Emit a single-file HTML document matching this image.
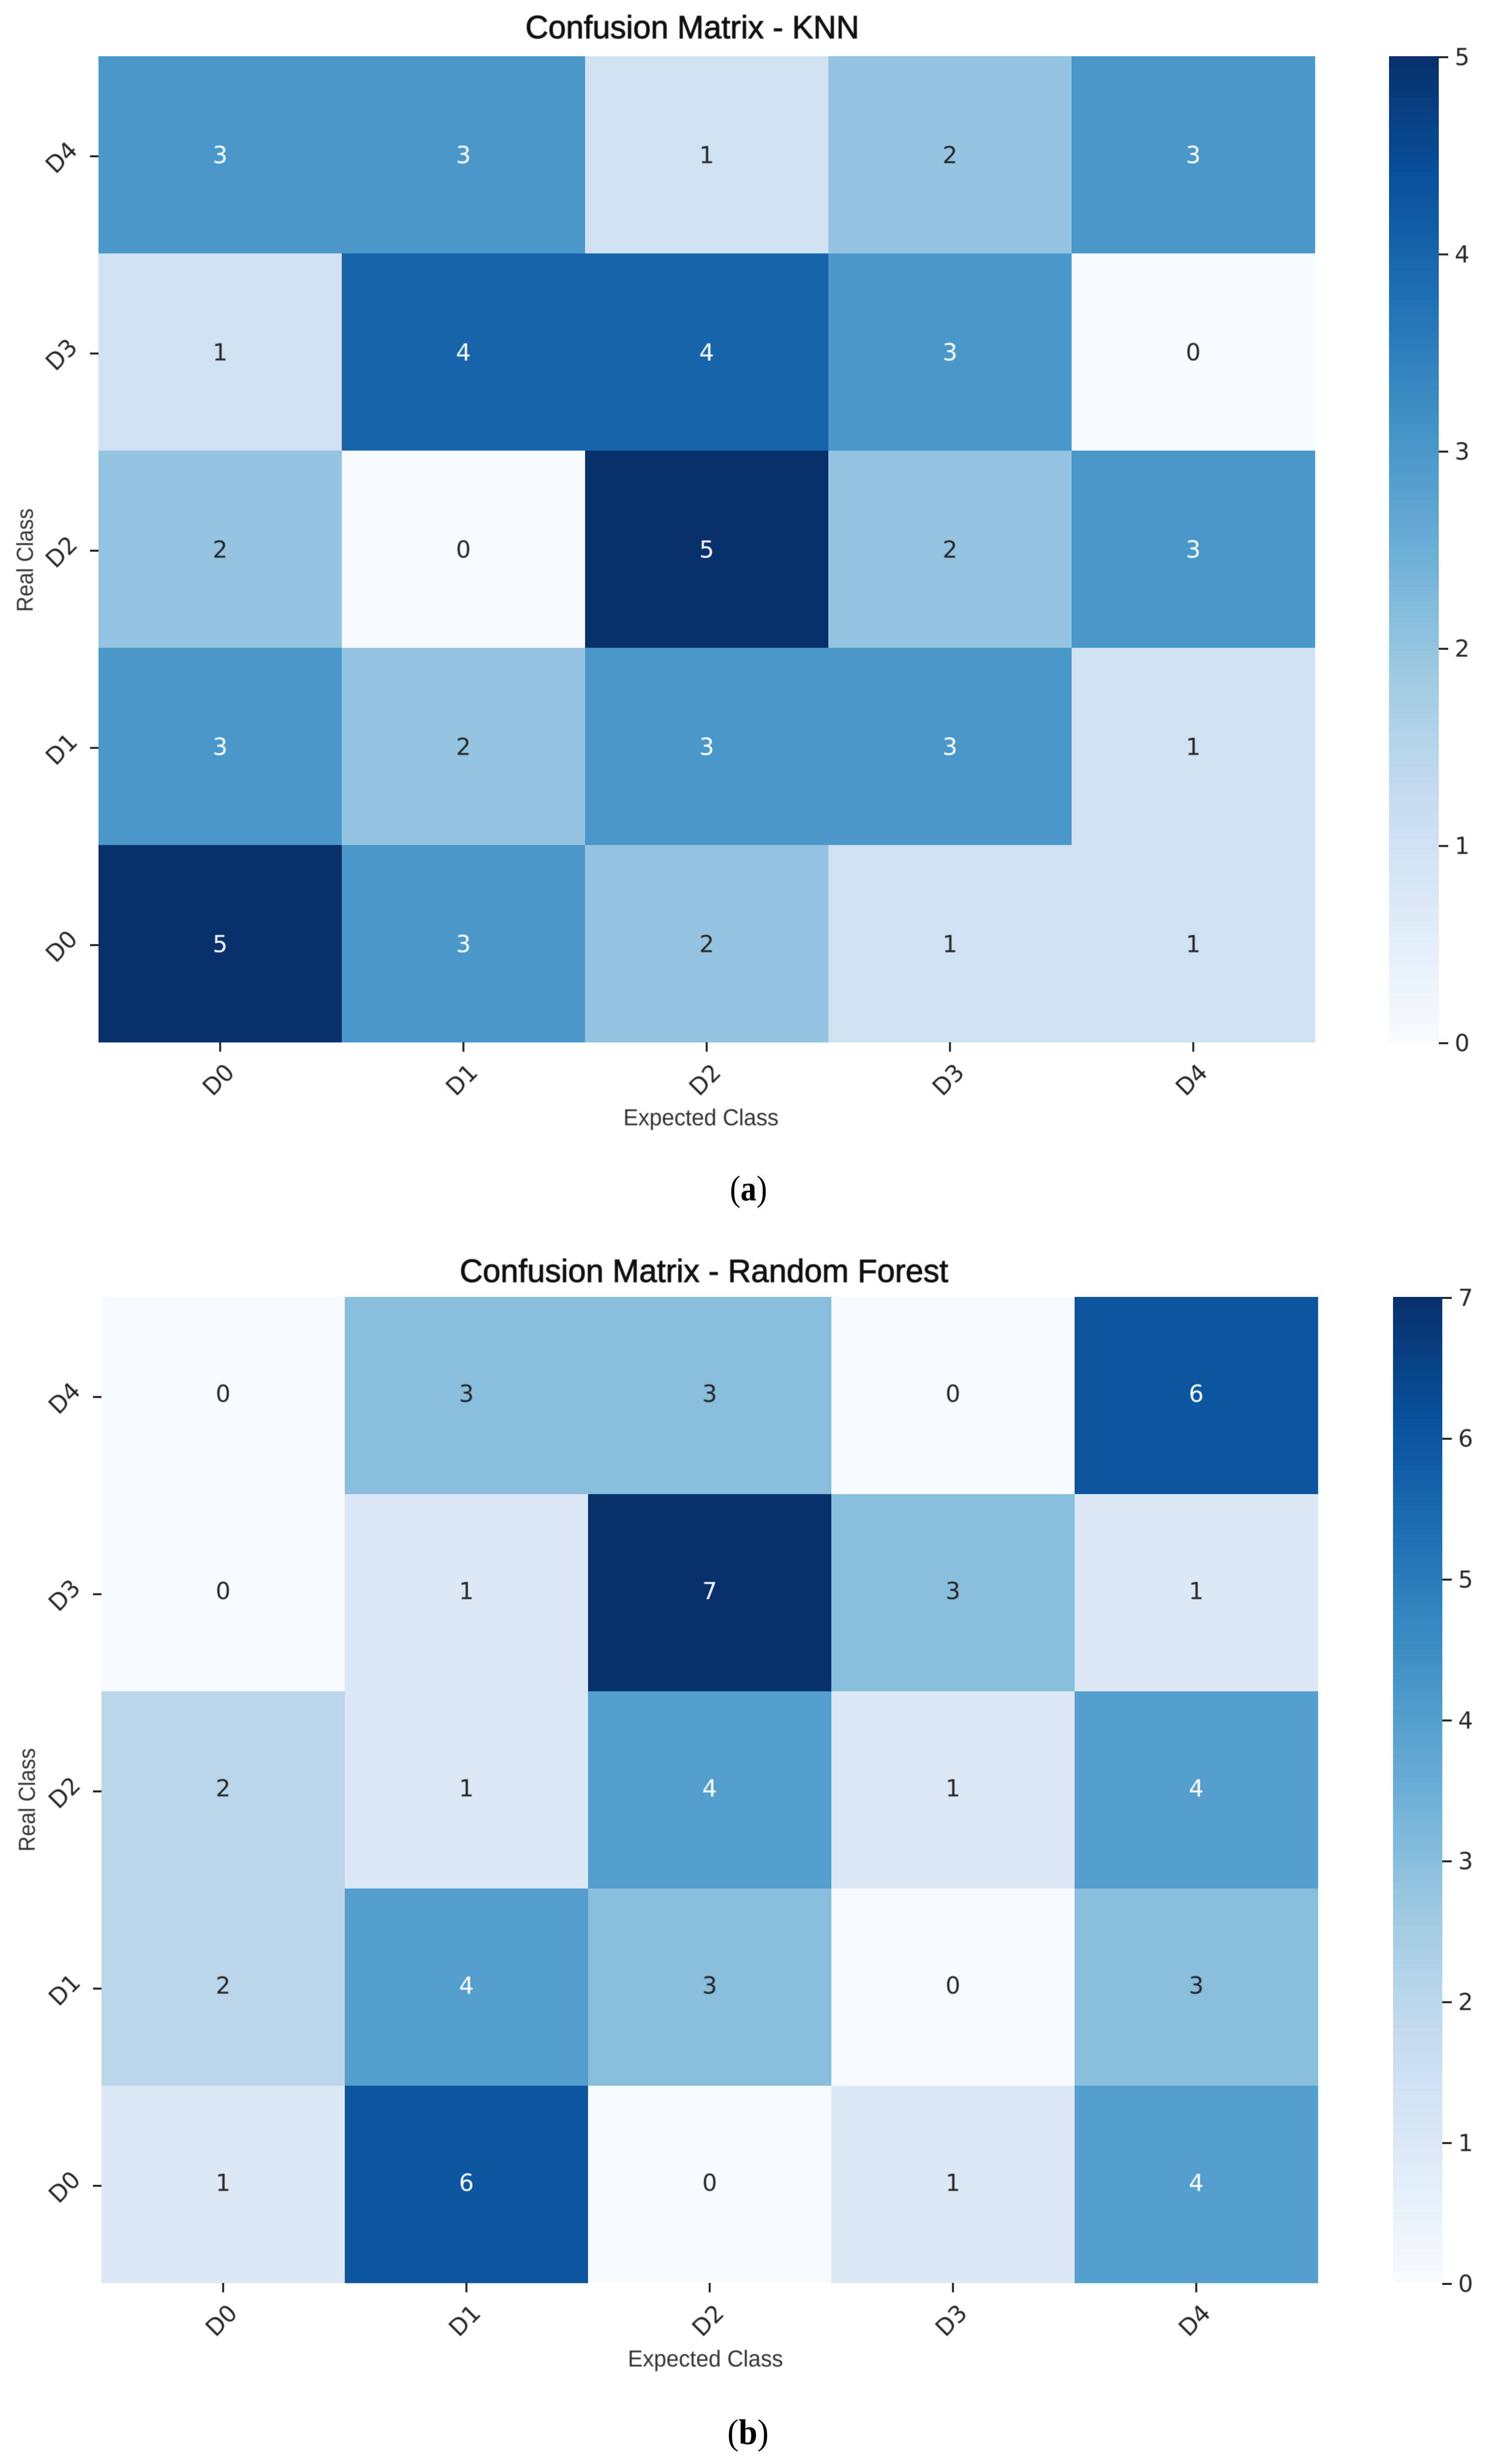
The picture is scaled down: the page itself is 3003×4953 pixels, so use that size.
<!DOCTYPE html>
<html lang="en">
<head>
<meta charset="utf-8">
<title>Confusion Matrices - KNN and Random Forest</title>
<style>
  html, body { margin: 0; padding: 0; background: #ffffff; }
  svg { display: block; }
  .soft { filter: blur(0.9px); }
</style>
</head>
<body>
<svg id="figure" xmlns="http://www.w3.org/2000/svg" width="3003" height="4953" viewBox="0 0 3003 4953">
  <rect x="0" y="0" width="3003" height="4953" fill="#ffffff"></rect>
  <defs id="defs"></defs>
</svg>
<script>
// ---- chart data ----
const xCategories = ['D0', 'D1', 'D2', 'D3', 'D4'];
const yCategories = ['D4', 'D3', 'D2', 'D1', 'D0'];

const knnValues = [
  [3, 3, 1, 2, 3],
  [1, 4, 4, 3, 0],
  [2, 0, 5, 2, 3],
  [3, 2, 3, 3, 1],
  [5, 3, 2, 1, 1]
];
const forestValues = [
  [0, 3, 3, 0, 6],
  [0, 1, 7, 3, 1],
  [2, 1, 4, 1, 4],
  [2, 4, 3, 0, 3],
  [1, 6, 0, 1, 4]
];
const knnColorbarTicks = [0, 1, 2, 3, 4, 5];
const forestColorbarTicks = [0, 1, 2, 3, 4, 5, 6, 7];
const knnTitle = 'Confusion Matrix - KNN';
const forestTitle = 'Confusion Matrix - Random Forest';
const xAxisLabel = 'Expected Class';
const yAxisLabel = 'Real Class';

// ---- Blues colour map ----
const bluesMap = ['#f7fbff', '#deebf7', '#c6dbef', '#9ecae1', '#6baed6', '#4292c6', '#2171b5', '#08519c', '#08306b'];

function hexToRgb(h) {
  return [parseInt(h.slice(1, 3), 16), parseInt(h.slice(3, 5), 16), parseInt(h.slice(5, 7), 16)];
}
function blues(t) {
  const p = Math.min(Math.max(t, 0), 1) * (bluesMap.length - 1);
  const i = Math.min(Math.floor(p), bluesMap.length - 2);
  const f = p - i;
  const a = hexToRgb(bluesMap[i]);
  const b = hexToRgb(bluesMap[i + 1]);
  return 'rgb(' + a.map((v, k) => Math.round(v + (b[k] - v) * f)).join(',') + ')';
}

const SVG_NS = 'http://www.w3.org/2000/svg';
const root = document.getElementById('figure');
const defs = document.getElementById('defs');
const SANS = '"Liberation Sans", sans-serif';
const DEJAVU = '"DejaVu Sans", sans-serif';
const SERIF = '"Liberation Serif", serif';

function make(tag, parent, attrs) {
  const el = document.createElementNS(SVG_NS, tag);
  for (const k in attrs) el.setAttribute(k, attrs[k]);
  parent.appendChild(el);
  return el;
}

function drawPanel(prefix, values, colorbarTicks, title, geo) {
  const group = make('g', root, {});
  
  

  const cellW = (geo.right - geo.left) / xCategories.length;
  const cellH = (geo.bottom - geo.top) / yCategories.length;
  const vmax = Math.max(...colorbarTicks);
  const xAt = (i) => geo.left + i * cellW;
  const yAt = (j) => geo.top + j * cellH;
  const cbarY = (v) => geo.bottom - (v / vmax) * (geo.bottom - geo.top);

  // cells
  values.forEach((row, j) => {
    row.forEach((v, i) => {
      const cell = make('rect', group, {
        x: xAt(i), y: yAt(j), width: cellW + 0.5, height: cellH + 0.5, fill: blues(v / vmax)
      });
      
      
    });
  });

  // annotations
  const annGroup = make('g', group, { class: 'soft' });
  
  
  values.forEach((row, j) => {
    row.forEach((v, i) => {
      const t = make('text', annGroup, {
        x: xAt(i) + cellW / 2,
        y: yAt(j) + cellH / 2 + geo.annDy + 17,
        'text-anchor': 'middle',
        'font-family': DEJAVU,
        'font-size': 47,
        fill: v / vmax >= 0.5 ? '#ffffff' : '#262626'
      });
      t.textContent = String(v);
      
      
    });
  });

  // x axis
  xCategories.forEach((c, i) => {
    const cx = xAt(i) + cellW / 2;
    const tick = make('rect', group, { x: cx - 2, y: geo.bottom, width: 4, height: 19, fill: '#262626' });
    
    
    const lx = cx - 4;
    const ly = geo.bottom + 75;
    const label = make('text', group, {
      x: lx, y: ly + 17, 'text-anchor': 'middle', 'font-family': DEJAVU, 'font-size': 47,
      fill: '#262626', class: 'soft', transform: 'rotate(-45 ' + lx + ' ' + ly + ')'
    });
    label.textContent = c;
    
    
  });

  // y axis
  yCategories.forEach((c, j) => {
    const cy = yAt(j) + cellH / 2;
    const tick = make('rect', group, { x: geo.left - 17, y: cy + 1, width: 17, height: 4, fill: '#262626' });
    
    
    const lx = geo.left - 75;
    const ly = cy + 5;
    const label = make('text', group, {
      x: lx, y: ly + 17, 'text-anchor': 'middle', 'font-family': DEJAVU, 'font-size': 47,
      fill: '#262626', class: 'soft', transform: 'rotate(-45 ' + lx + ' ' + ly + ')'
    });
    label.textContent = c;
    
    
  });

  // colour bar gradient
  const gradId = prefix + '-gradient';
  const grad = make('linearGradient', defs, { id: gradId, x1: 0, y1: 1, x2: 0, y2: 0 });
  for (let s = 0; s <= 32; s++) {
    make('stop', grad, { offset: s / 32, 'stop-color': blues(s / 32) });
  }
  const cbar = make('rect', group, {
    x: geo.cbarLeft, y: geo.top, width: geo.cbarRight - geo.cbarLeft,
    height: geo.bottom - geo.top, fill: 'url(#' + gradId + ')'
  });
  
  

  colorbarTicks.forEach((v) => {
    const y = cbarY(v);
    const tick = make('rect', group, { x: geo.cbarRight, y: y, width: 19, height: 4, fill: '#262626' });
    
    
    const label = make('text', group, {
      x: geo.cbarRight + 32, y: y + 18, 'font-family': DEJAVU, 'font-size': 47,
      fill: '#262626', class: 'soft'
    });
    label.textContent = String(v);
    
    
  });

  // title
  const titleEl = make('text', group, {
    x: geo.titleX, y: geo.titleY, 'font-family': SANS, 'font-size': 65, fill: '#111111',
    stroke: '#111111', 'stroke-width': 1.2,
    textLength: geo.titleW, lengthAdjust: 'spacingAndGlyphs', class: 'soft'
  });
  titleEl.textContent = title;
  
  

  // x axis title
  const xTitle = make('text', group, {
    x: geo.xTitleX, y: geo.xTitleY, 'font-family': SANS, 'font-size': 46, fill: '#333333',
    textLength: 312, lengthAdjust: 'spacingAndGlyphs', class: 'soft'
  });
  xTitle.textContent = xAxisLabel;
  
  

  // y axis title
  const yTitle = make('text', group, {
    x: 0, y: 0, 'font-family': SANS, 'font-size': 46, fill: '#333333',
    textLength: 208, lengthAdjust: 'spacingAndGlyphs', class: 'soft',
    transform: 'translate(' + geo.yTitleX + ' ' + geo.yTitleY + ') rotate(-90)'
  });
  yTitle.textContent = yAxisLabel;
  
  

  // caption
  const cap = make('text', group, {
    x: geo.capX, y: geo.capY, 'font-family': SERIF, 'font-size': 72, fill: '#000000',
    textLength: geo.capW, lengthAdjust: 'spacingAndGlyphs'
  });
  cap.appendChild(document.createTextNode('('));
  const bold = make('tspan', cap, { 'font-weight': 'bold' });
  bold.textContent = geo.capLetter;
  cap.appendChild(document.createTextNode(')'));
  
  
}

drawPanel('knn', knnValues, knnColorbarTicks, knnTitle, {
  left: 198, right: 2643, top: 113, bottom: 2095,
  cbarLeft: 2792, cbarRight: 2892,
  titleX: 1056, titleY: 77, titleW: 671,
  xTitleX: 1253, xTitleY: 2262,
  yTitleX: 66, yTitleY: 1230,
  capX: 1467, capY: 2413, capW: 75, capLetter: 'a',
  annDy: 0
});

drawPanel('random-forest', forestValues, forestColorbarTicks, forestTitle, {
  left: 204, right: 2649, top: 2607, bottom: 4589,
  cbarLeft: 2800, cbarRight: 2899,
  titleX: 924, titleY: 2577, titleW: 982,
  xTitleX: 1262, xTitleY: 4757,
  yTitleX: 70, yTitleY: 3722,
  capX: 1462, capY: 4913, capW: 83, capLetter: 'b',
  annDy: -4
});
</script>
</body>
</html>
